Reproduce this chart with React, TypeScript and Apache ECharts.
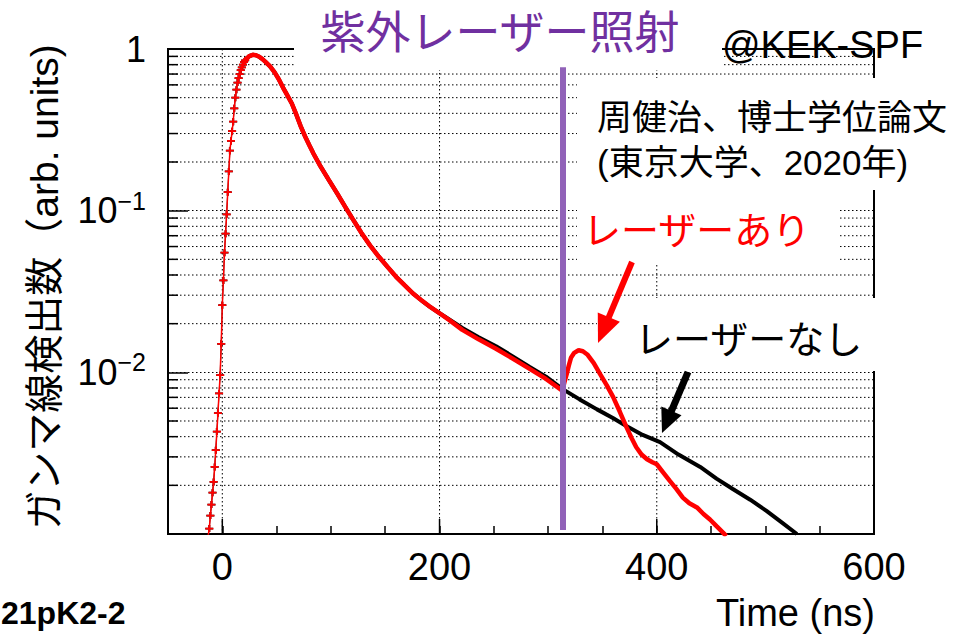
import * as echarts from 'echarts';
import { useEffect, useRef } from 'react';

const FONT = "'Liberation Sans', 'Noto Sans CJK JP', sans-serif";

// Rising edge (both measurements coincide)
const riseTimeNs = [-13, -12, -11, -10, -9, -8, -7, -6, -5, -4, -3, -2, -1, 0, 1, 2, 3, 4, 5, 6, 7, 8, 9, 10, 11, 12, 13, 14, 15, 16, 17, 18, 19, 20, 21];
const riseCounts = [0.00098, 0.00108, 0.0013, 0.00152, 0.0018, 0.0021, 0.0026, 0.0033, 0.0043, 0.0056, 0.0074, 0.0096, 0.015, 0.026, 0.037, 0.055, 0.072, 0.095, 0.13, 0.175, 0.235, 0.27, 0.31, 0.355, 0.43, 0.5, 0.56, 0.62, 0.66, 0.7, 0.74, 0.77, 0.8, 0.83, 0.85];

// Laser off (black)
const offTimeNs = [21, 23, 25, 28, 31, 34, 37, 40, 44, 48, 52, 56, 60, 64, 68, 72, 76, 80, 84, 90, 98, 106, 113, 120, 128, 136, 144, 152, 160, 168, 175, 183, 190, 200, 210, 221, 236, 252, 267, 283, 298, 313, 329, 345, 360, 372, 387, 403, 420, 440, 455, 470, 486, 501, 515, 529];
const offCounts = [0.85, 0.88, 0.905, 0.92, 0.915, 0.895, 0.865, 0.83, 0.78, 0.72, 0.65, 0.575, 0.515, 0.46, 0.395, 0.335, 0.29, 0.255, 0.225, 0.19, 0.155, 0.127, 0.106, 0.089, 0.073, 0.061, 0.052, 0.045, 0.039, 0.0345, 0.031, 0.028, 0.0258, 0.0232, 0.021, 0.0188, 0.0165, 0.0145, 0.0126, 0.0108, 0.0094, 0.0079, 0.0068, 0.0059, 0.0052, 0.00465, 0.0041, 0.0037, 0.0031, 0.0026, 0.0022, 0.0019, 0.00163, 0.00139, 0.00118, 0.001];

// Laser on (red)
const onTimeNs = [21, 23, 25, 28, 31, 34, 37, 40, 44, 48, 52, 56, 60, 64, 68, 72, 76, 80, 84, 90, 98, 106, 113, 120, 128, 136, 144, 152, 160, 168, 175, 183, 190, 200, 210, 221, 236, 252, 267, 283, 298, 313, 315, 317, 319, 321, 324, 328, 332, 336, 342, 348, 354, 360, 366, 372, 377, 381, 386, 391, 396, 400, 406, 412, 418, 424, 430, 437, 443, 449, 455, 461, 464];
const onCounts = [0.85, 0.88, 0.905, 0.92, 0.915, 0.895, 0.865, 0.83, 0.78, 0.72, 0.65, 0.575, 0.515, 0.46, 0.395, 0.335, 0.29, 0.255, 0.225, 0.19, 0.155, 0.127, 0.106, 0.089, 0.073, 0.061, 0.052, 0.045, 0.039, 0.0345, 0.031, 0.028, 0.0258, 0.0232, 0.0208, 0.0183, 0.016, 0.014, 0.0122, 0.0105, 0.0091, 0.0077, 0.0087, 0.0097, 0.011, 0.0123, 0.0132, 0.0137, 0.0135, 0.0129, 0.0114, 0.0097, 0.0083, 0.007, 0.0057, 0.0046, 0.0039, 0.00345, 0.0031, 0.0029, 0.00278, 0.0027, 0.0024, 0.00213, 0.0019, 0.00168, 0.00155, 0.00146, 0.00133, 0.00123, 0.00112, 0.00102, 0.00097];

// Laser irradiation time and drawn extent of the marker line
const laserTimeNs = 313;
const laserLineRange = [0.00106, 0.77];

// Axis settings
const xMin = -50;
const xMax = 600;
const xMajorTicks = [0, 200, 400];
const yMin = 0.001;
const yMax = 1;
const yMinorTicks = [0.002, 0.003, 0.004, 0.005, 0.006, 0.007, 0.008, 0.009, 0.02, 0.03, 0.04, 0.05, 0.06, 0.07, 0.08, 0.09, 0.2, 0.3, 0.4, 0.5, 0.6, 0.7, 0.8, 0.9];

const zip = (xs: number[], ys: number[]) => xs.map((x, i) => [x, ys[i]]);

const DOT = [1.5, 2.5];
const PLUS = 'path://M3,0h2v3h3v2h-3v3h-2v-3h-3v-2h3z';

function text(x: number, y: number, t: string, size: number, color = '#000', align = 'left', weight = 'normal', extra: any = {}) {
  return {
    type: 'text',
    z: 10,
    x,
    y,
    silent: true,
    ...extra,
    style: {
      text: t,
      fill: color,
      font: `${weight} ${size}px ${FONT}`,
      align,
      verticalAlign: 'middle',
      textAlign: align,
      textVerticalAlign: 'middle',
    },
  };
}

function cover(x: number, y: number, w: number, h: number) {
  return { type: 'rect', z: 1, silent: true, shape: { x, y, width: w, height: h }, style: { fill: '#fff' } };
}

function arrow(x1: number, y1: number, tx: number, ty: number, color: string, width: number, headLen: number, headHalf: number) {
  const dx = tx - x1;
  const dy = ty - y1;
  const len = Math.hypot(dx, dy);
  const ux = dx / len;
  const uy = dy / len;
  const bx = tx - ux * headLen;
  const by = ty - uy * headLen;
  const px = -uy;
  const py = ux;
  return [
    { type: 'line', z: 10, silent: true, shape: { x1, y1, x2: bx + ux * 2, y2: by + uy * 2 }, style: { stroke: color, lineWidth: width } },
    {
      type: 'polygon',
      z: 10,
      silent: true,
      shape: { points: [[tx, ty], [bx + px * headHalf, by + py * headHalf], [bx - px * headHalf, by - py * headHalf]] },
      style: { fill: color },
    },
  ];
}

export default function App() {
  const ref = useRef<HTMLDivElement>(null);

  useEffect(() => {
    if (!ref.current) return;
    const chart = echarts.init(ref.current, undefined, { renderer: 'svg' });

    const option: any = {
      animation: false,
      backgroundColor: '#fff',
      textStyle: { fontFamily: FONT },
      grid: { left: 168, right: 87, top: 49, bottom: 100, show: true, borderColor: '#000', borderWidth: 2, backgroundColor: 'transparent' },
      xAxis: {
        type: 'value',
        min: xMin,
        max: xMax,
        interval: 50,
        axisLine: { show: true, onZero: false, lineStyle: { color: '#000', width: 2 } },
        axisTick: { show: true, inside: true, length: 8, lineStyle: { color: '#000', width: 1.5 } },
        splitLine: { show: false },
        axisLabel: {
          color: '#000',
          fontSize: 38,
          fontFamily: FONT,
          margin: 14,
          formatter: (v: number) => (v % 200 === 0 ? String(v) : ''),
        },
      },
      yAxis: {
        type: 'log',
        logBase: 10,
        min: yMin,
        max: yMax,
        axisLine: { show: true, onZero: false, lineStyle: { color: '#000', width: 2 } },
        axisTick: { show: true, inside: true, length: 20, lineStyle: { color: '#000', width: 1.5 } },
        splitLine: { show: true, lineStyle: { color: '#000', width: 1, type: DOT } },
        axisLabel: {
          color: '#000',
          fontSize: 36,
          fontFamily: FONT,
          margin: 22,
          showMinLabel: false,
          formatter: (v: number) => {
            const e = Math.round(Math.log10(v));
            if (e === 0) return '1';
            return '10{sup|−' + -e + '}';
          },
          rich: {
            sup: { fontSize: 25, fontFamily: FONT, color: '#000', padding: [0, 0, 20, 0] },
          },
        },
      },
      series: [
        {
          type: 'custom',
          name: 'ygrid',
          silent: true,
          z: 0,
          clip: false,
          data: yMinorTicks.map((v) => [xMin, v]),
          renderItem: (params: any, api: any) => {
            const cs = params.coordSys;
            const p = api.coord([api.value(0), api.value(1)]);
            return {
              type: 'group',
              children: [
                { type: 'line', shape: { x1: cs.x, y1: p[1], x2: cs.x + cs.width, y2: p[1] }, style: { stroke: '#000', lineWidth: 1, lineDash: DOT } },
                { type: 'line', shape: { x1: cs.x, y1: p[1], x2: cs.x + 10, y2: p[1] }, style: { stroke: '#000', lineWidth: 1.5 } },
              ],
            };
          },
        },
        {
          type: 'custom',
          name: 'xgrid',
          silent: true,
          z: 0,
          clip: false,
          data: xMajorTicks.map((v) => [v, yMin]),
          renderItem: (params: any, api: any) => {
            const cs = params.coordSys;
            const p = api.coord([api.value(0), api.value(1)]);
            return {
              type: 'group',
              children: [
                { type: 'line', shape: { x1: p[0], y1: cs.y, x2: p[0], y2: cs.y + cs.height }, style: { stroke: '#000', lineWidth: 1, lineDash: DOT } },
                { type: 'line', shape: { x1: p[0], y1: cs.y + cs.height, x2: p[0], y2: cs.y + cs.height - 15 }, style: { stroke: '#000', lineWidth: 1.5 } },
              ],
            };
          },
        },
        {
          type: 'line',
          name: 'off-rise',
          data: zip(riseTimeNs, riseCounts),
          symbol: PLUS,
          symbolSize: [8, 7],
          showSymbol: true,
          itemStyle: { color: '#000' },
          lineStyle: { color: '#000', width: 1 },
          z: 3,
        },
        {
          type: 'line',
          name: 'レーザーなし',
          data: zip(offTimeNs, offCounts),
          showSymbol: false,
          symbol: 'none',
          lineStyle: { color: '#000', width: 4 },
          z: 3,
        },
        {
          type: 'line',
          name: 'on-rise',
          data: zip(riseTimeNs, riseCounts),
          symbol: PLUS,
          symbolSize: [8, 7],
          showSymbol: true,
          itemStyle: { color: '#ff0000' },
          lineStyle: { color: '#ff0000', width: 1.5 },
          z: 4,
        },
        {
          type: 'line',
          name: 'レーザーあり',
          data: zip(onTimeNs, onCounts),
          showSymbol: false,
          symbol: 'none',
          lineStyle: { color: '#ff0000', width: 4.5 },
          z: 4,
          markLine: {
            silent: true,
            symbol: ['none', 'none'],
            label: { show: false },
            lineStyle: { color: '#9162b8', width: 6, type: 'solid' },
            data: [[{ coord: [laserTimeNs, laserLineRange[0]] }, { coord: [laserTimeNs, laserLineRange[1]] }]],
          },
        },
      ],
      graphic: {
        elements: [
          cover(294, 0, 428, 70),
          cover(577, 78, 384, 112),
          cover(577, 190, 261, 75),
          cover(597, 298, 364, 73),
          text(500, 33, '紫外レーザー照射', 45, '#7030a0', 'center'),
          text(722, 45, '@KEK-SPF', 38),
          text(597, 117, '周健治、博士学位論文', 35),
          text(597, 162, '(東京大学、2020年)', 35),
          text(583, 231, 'レーザーあり', 38, '#ff0000'),
          text(635, 340, 'レーザーなし', 38),
          text(875, 613, 'Time (ns)', 38, '#000', 'right'),
          text(1, 613, '21pK2-2', 32, '#000', 'left', 'bold'),
          text(44, 287, 'ガンマ線検出数（arb. units)', 39, '#000', 'center', 'normal', { rotation: Math.PI / 2 }),
          ...arrow(632, 262, 598, 343, '#ff0000', 6, 28, 12),
          ...arrow(688, 372, 662, 433, '#000', 7, 24, 11),
        ],
      },
    };

    chart.setOption(option);
    return () => chart.dispose();
  }, []);

  return <div ref={ref} style={{ position: 'fixed', left: 0, top: 0, width: 961, height: 634, background: '#fff' }} />;
}
